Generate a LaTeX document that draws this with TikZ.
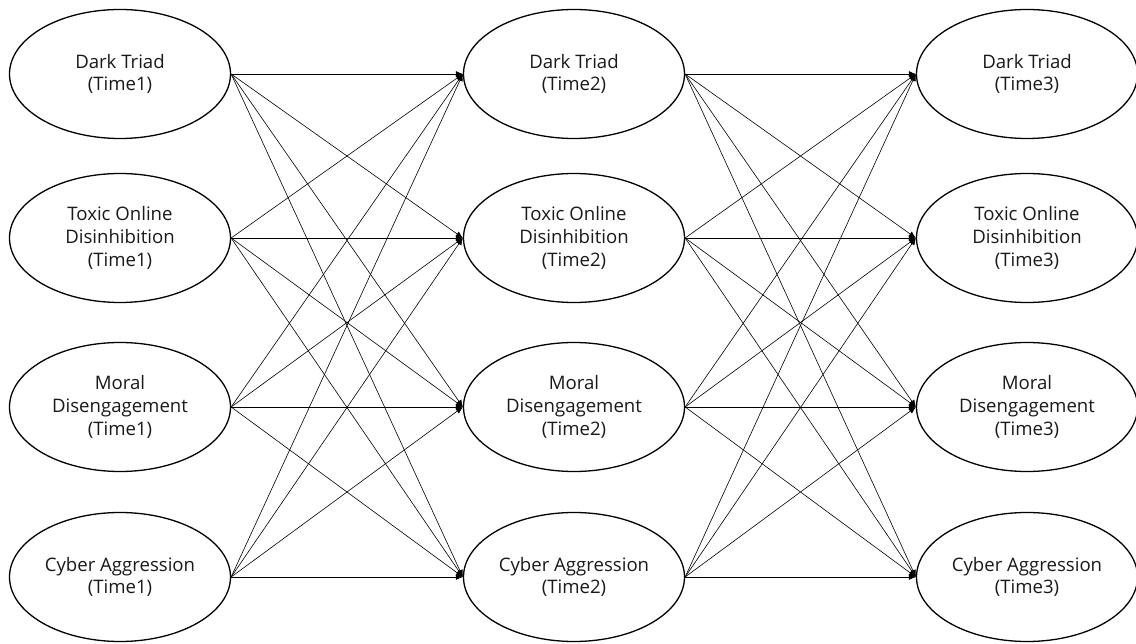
\documentclass[tikz,border=0pt]{standalone}
\usepackage{fontspec}
\setmainfont{Open Sans}
\usetikzlibrary{shapes.geometric,arrows.meta}
\tikzset{
  construct/.style={ellipse,draw,line width=1.3pt,minimum width=221pt,minimum height=129pt,
    inner sep=0pt,align=center,font=\fontsize{18.6}{22.7}\selectfont,text=black!90},
  path/.style={line width=0.6pt,-{Latex[length=7pt,width=6pt]}}
}
\begin{document}
\begin{tikzpicture}[x=1pt,y=-1pt]
\useasboundingbox (0,0) rectangle (1136,644);
% three measurement waves, four constructs each
\foreach \t/\x in {1/120,2/574,3/1027}{
  \node[construct] (dt\t) at (\x,74)  {Dark Triad\\(Time\t)};
  \node[construct] (tod\t) at (\x,238) {Toxic Online\\Disinhibition\\(Time\t)};
  \node[construct] (md\t) at (\x,407) {Moral\\Disengagement\\(Time\t)};
  \node[construct] (ca\t) at (\x,577) {Cyber Aggression\\(Time\t)};
}
% cross-lagged and autoregressive paths between adjacent waves
\foreach \a/\b in {1/2,2/3}{
  \foreach \s in {dt,tod,md,ca}{
    \foreach \d in {dt,tod,md,ca}{
      \draw[path] (\s\a.east) -- (\d\b.west);
    }
  }
}
\end{tikzpicture}
\end{document}
